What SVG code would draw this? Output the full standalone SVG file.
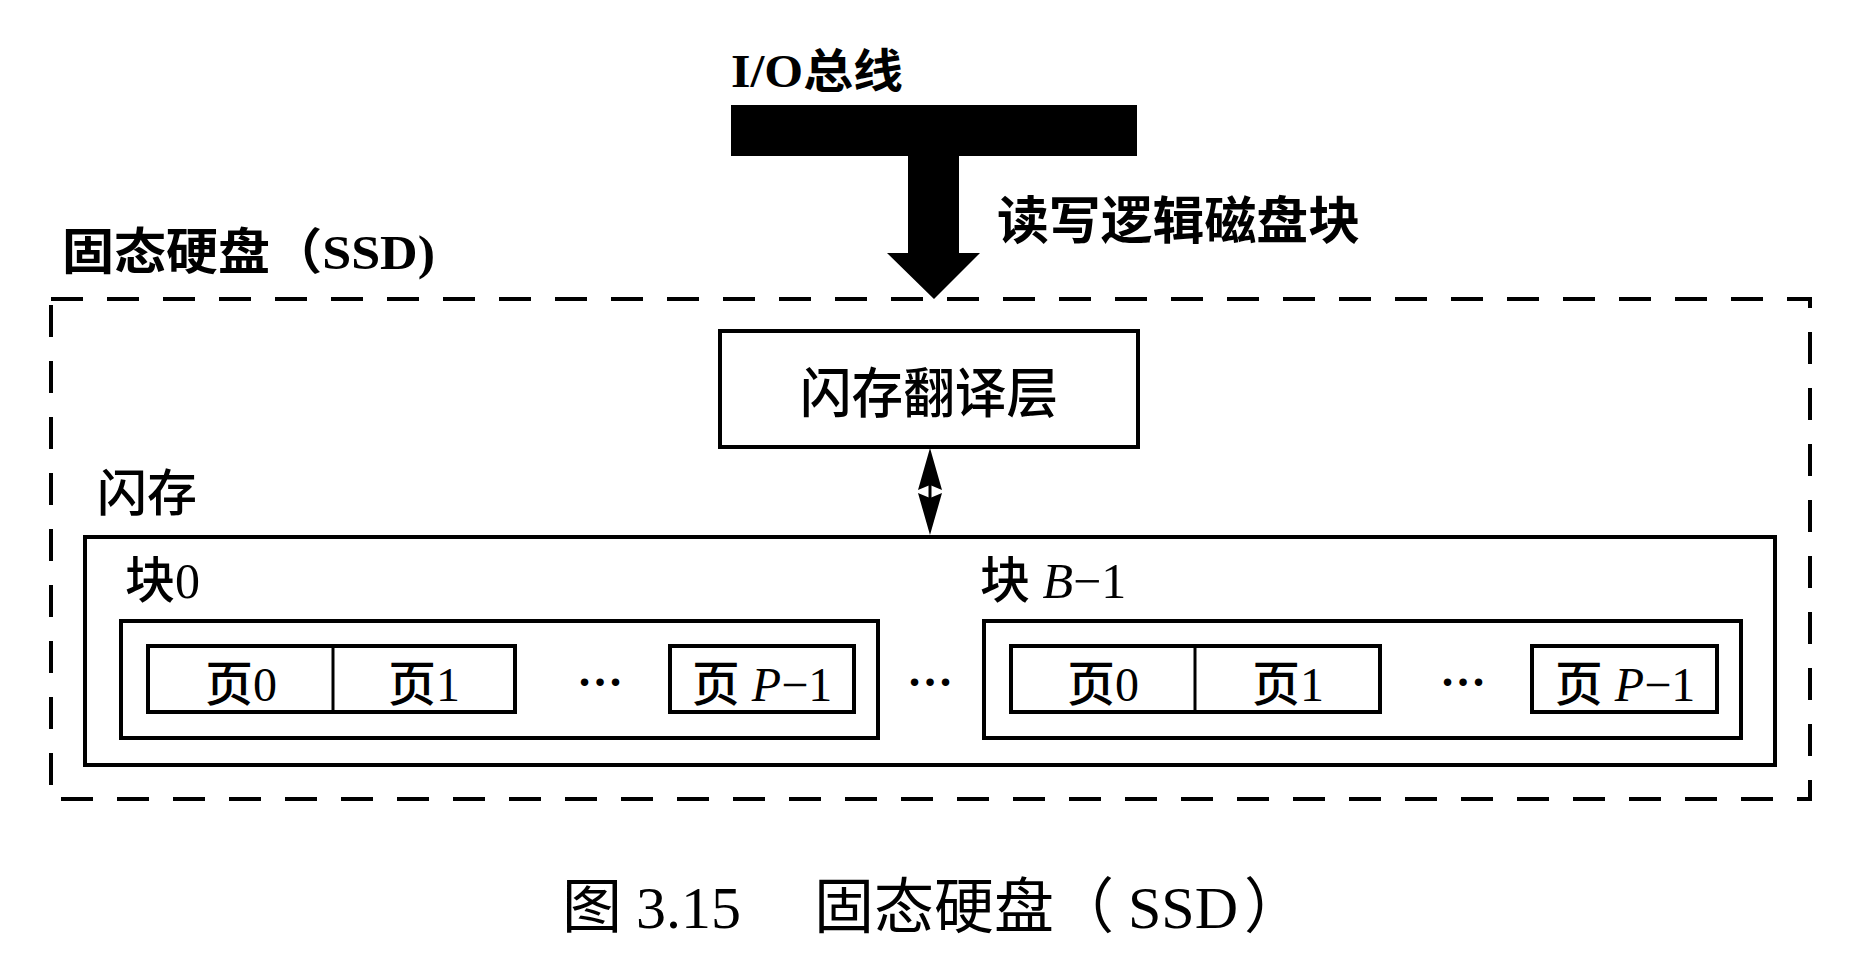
<svg xmlns="http://www.w3.org/2000/svg" width="1870" height="980" viewBox="0 0 1870 980">
  <style>
    .t { font-family: "Liberation Serif", "Noto Sans CJK SC", serif; fill: #000; }
    .b { font-weight: bold; }
    .m { font-weight: 500; }
    .box { fill: #fff; stroke: #000; stroke-width: 4; }
    .dash { fill: none; stroke: #000; stroke-width: 4; stroke-dasharray: 32 24; }
    .it { font-style: italic; }
  </style>
  <rect width="1870" height="980" fill="#fff"/>

  <g id="ssd">
    <rect class="dash" x="51" y="299" width="1759" height="500"/>
    <text class="t b" x="62" y="269" font-size="49" textLength="373" lengthAdjust="spacingAndGlyphs">固态硬盘（SSD)</text>
  </g>

  <g id="io-bus">
    <text class="t b" x="731" y="87" font-size="46" textLength="172" lengthAdjust="spacingAndGlyphs">I/O总线</text>
    <rect x="731" y="105" width="406" height="51" fill="#000"/>
  </g>

  <g id="ftl">
    <rect class="box" x="720" y="331" width="418" height="116"/>
    <text class="t m" x="929" y="413" font-size="54" text-anchor="middle" textLength="258" lengthAdjust="spacingAndGlyphs">闪存翻译层</text>
  </g>

  <g id="flash">
    <text class="t m" x="97" y="511" font-size="50">闪存</text>
    <rect class="box" x="85" y="537" width="1690" height="228"/>
  </g>

  <g id="block0">
    <text class="t m" x="125" y="598" font-size="50">块0</text>
    <rect class="box" x="121" y="621" width="757" height="117"/>
    <rect class="box" x="148" y="646" width="367" height="66"/>
    <line x1="333" y1="646" x2="333" y2="712" stroke="#000" stroke-width="3"/>
    <text class="t m" x="241" y="701" font-size="48" text-anchor="middle">页0</text>
    <text class="t m" x="424" y="701" font-size="48" text-anchor="middle">页1</text>
    <text class="t b" x="600" y="686" font-size="46" text-anchor="middle">…</text>
    <rect class="box" x="670" y="646" width="184" height="66"/>
    <text class="t m" x="762" y="701" font-size="48" text-anchor="middle">页 <tspan class="it">P</tspan>−1</text>
  </g>

  <text class="t b" x="930" y="686" font-size="46" text-anchor="middle">…</text>

  <g id="blockB-1">
    <text class="t m" x="980" y="598" font-size="50">块 <tspan class="it">B</tspan>−1</text>
    <rect class="box" x="984" y="621" width="757" height="117"/>
    <rect class="box" x="1011" y="646" width="369" height="66"/>
    <line x1="1195" y1="646" x2="1195" y2="712" stroke="#000" stroke-width="3"/>
    <text class="t m" x="1103" y="701" font-size="48" text-anchor="middle">页0</text>
    <text class="t m" x="1288" y="701" font-size="48" text-anchor="middle">页1</text>
    <text class="t b" x="1463" y="686" font-size="46" text-anchor="middle">…</text>
    <rect class="box" x="1532" y="646" width="185" height="66"/>
    <text class="t m" x="1625" y="701" font-size="48" text-anchor="middle">页 <tspan class="it">P</tspan>−1</text>
  </g>

  <g id="connectors">
    <polygon points="908,155 959,155 959,253 980,253 934,299 887,253 908,253" fill="#000"/>
    <text class="t b" x="997" y="239" font-size="51" textLength="363" lengthAdjust="spacingAndGlyphs">读写逻辑磁盘块</text>
    <line x1="930" y1="470" x2="930" y2="515" stroke="#000" stroke-width="3"/>
    <polygon points="930,448 942,490 930,485 918,490" fill="#000"/>
    <polygon points="930,535 942,493 930,498 918,493" fill="#000"/>
  </g>

  <g id="caption">
    <text class="t" y="928" font-size="60"><tspan x="562">图</tspan><tspan x="636">3.15</tspan><tspan x="814">固态硬盘（</tspan><tspan x="1128">SSD</tspan><tspan x="1244">）</tspan></text>
  </g>
</svg>
